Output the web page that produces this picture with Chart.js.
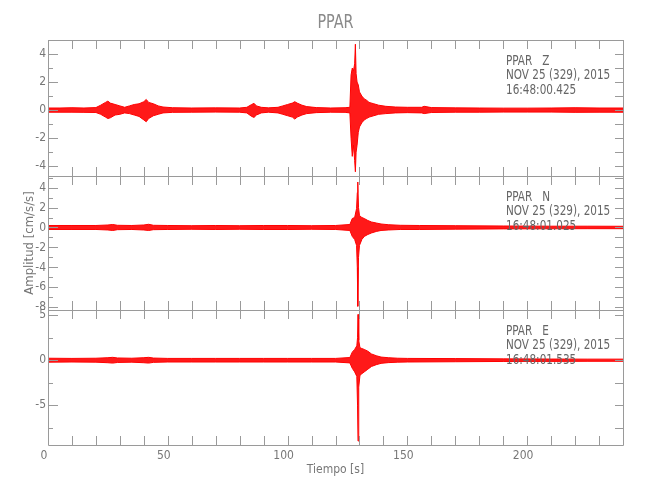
<!DOCTYPE html>
<html>
<head>
<meta charset="utf-8">
<title>PPAR</title>
<script src="https://cdn.jsdelivr.net/npm/chart.js@4.4.1/dist/chart.umd.min.js"></script>
<style>
  body { margin: 0; background: #fff; }
  #wrap { position: relative; width: 650px; height: 500px; }
  #wrap canvas { position: absolute; left: 0; top: 0; }
</style>
</head>
<body>
<div id="wrap">
  <canvas id="panelZ" width="650" height="500"></canvas>
  <canvas id="panelN" width="650" height="500"></canvas>
  <canvas id="panelE" width="650" height="500"></canvas>
</div>
<script>
const tiempoZ = [0, 5, 10, 15, 20, 22, 24, 25, 26, 28,
  30, 32, 34, 36, 38, 40, 41, 42, 44, 46,
  48, 52, 60, 70, 80, 83, 85, 86, 87, 89,
  92, 96, 98, 100, 102, 103, 104, 106, 108, 112,
  118, 124, 126, 126.5, 127, 127.5, 128, 128.3, 128.6, 129,
  129.5, 130, 131, 132, 133, 134, 136, 138, 141, 145,
  150, 156, 157, 160, 170, 180, 190, 200, 210, 220,
  230, 240];
const altoZ = [0.15, 0.15, 0.17, 0.15, 0.18, 0.35, 0.55, 0.64, 0.5, 0.4,
  0.3, 0.2, 0.3, 0.4, 0.45, 0.6, 0.76, 0.55, 0.45, 0.3,
  0.22, 0.17, 0.15, 0.16, 0.15, 0.2, 0.4, 0.48, 0.3, 0.2,
  0.16, 0.2, 0.3, 0.4, 0.5, 0.6, 0.5, 0.35, 0.25, 0.18,
  0.15, 0.17, 0.2, 2.5, 3.0, 2.8, 3.3, 4.7, 2.6, 2.0,
  1.8, 1.3, 1.0, 0.8, 0.7, 0.55, 0.45, 0.35, 0.27, 0.22,
  0.2, 0.2, 0.27, 0.18, 0.16, 0.15, 0.14, 0.14, 0.15, 0.17,
  0.15, 0.15];
const bajoZ = [-0.15, -0.15, -0.15, -0.16, -0.17, -0.3, -0.5, -0.6, -0.55, -0.35,
  -0.3, -0.2, -0.25, -0.35, -0.45, -0.7, -0.83, -0.6, -0.4, -0.3,
  -0.2, -0.16, -0.15, -0.14, -0.15, -0.2, -0.45, -0.52, -0.35, -0.2,
  -0.15, -0.2, -0.3, -0.4, -0.5, -0.64, -0.5, -0.35, -0.25, -0.18,
  -0.15, -0.16, -0.2, -2.0, -3.3, -2.5, -3.6, -4.4, -3.0, -2.5,
  -1.6, -1.2, -0.9, -0.7, -0.6, -0.5, -0.4, -0.3, -0.25, -0.2,
  -0.18, -0.2, -0.25, -0.17, -0.15, -0.15, -0.14, -0.14, -0.14, -0.16,
  -0.15, -0.15];

const tiempoN = [0, 10, 20, 25, 27, 29, 35, 40, 42, 44,
  50, 60, 70, 80, 90, 100, 110, 120, 126, 127,
  128, 128.8, 129.1, 129.3, 129.6, 130, 131, 132, 133.5, 135,
  137, 139, 142, 147, 155, 170, 190, 210, 225, 240];
const altoN = [0.2, 0.2, 0.2, 0.25, 0.3, 0.22, 0.2, 0.25, 0.32, 0.22,
  0.2, 0.18, 0.2, 0.18, 0.2, 0.2, 0.18, 0.2, 0.3, 0.9,
  1.0, 1.9, 3.5, 4.56, 2.0, 1.2, 1.0, 0.9, 0.7, 0.55,
  0.45, 0.35, 0.28, 0.22, 0.2, 0.18, 0.15, 0.13, 0.13, 0.12];
const bajoN = [-0.2, -0.2, -0.2, -0.25, -0.3, -0.22, -0.2, -0.25, -0.3, -0.22,
  -0.2, -0.18, -0.2, -0.18, -0.2, -0.2, -0.18, -0.2, -0.3, -0.9,
  -1.2, -1.8, -4.0, -7.9, -3.0, -1.8, -1.2, -0.9, -0.7, -0.55,
  -0.4, -0.3, -0.25, -0.2, -0.2, -0.17, -0.14, -0.13, -0.12, -0.12];

const tiempoE = [0, 10, 20, 25, 27, 29, 35, 40, 42, 44,
  50, 60, 70, 80, 90, 100, 110, 120, 126, 127,
  128, 128.9, 129.2, 129.4, 129.7, 130.2, 131, 132, 133.5, 135,
  137, 139, 142, 146, 150, 170, 190, 210, 225, 240];
const altoE = [0.22, 0.2, 0.22, 0.28, 0.32, 0.25, 0.22, 0.28, 0.32, 0.24,
  0.2, 0.2, 0.2, 0.2, 0.2, 0.2, 0.2, 0.2, 0.3, 0.9,
  1.2, 1.6, 2.5, 5.1, 2.2, 1.4, 1.3, 1.2, 1.0, 0.7,
  0.5, 0.35, 0.28, 0.22, 0.2, 0.18, 0.15, 0.13, 0.12, 0.12];
const bajoE = [-0.22, -0.2, -0.22, -0.28, -0.32, -0.25, -0.22, -0.28, -0.32, -0.24,
  -0.2, -0.2, -0.2, -0.2, -0.2, -0.2, -0.2, -0.2, -0.3, -0.9,
  -1.3, -1.8, -5.0, -9.0, -3.0, -1.7, -1.5, -1.3, -1.0, -0.7,
  -0.5, -0.35, -0.27, -0.22, -0.2, -0.17, -0.14, -0.13, -0.12, -0.12];

const ticksZ = [4, 2, 0, -2, -4];
const ticksN = [4, 2, 0, -2, -4, -6, -8];
const ticksE = [5, 0, -5];
const ticksTiempo = [0, 50, 100, 150, 200];

const estacion = 'PPAR';
const fecha = 'NOV 25 (329), 2015';

const fuente = "'DejaVu Sans Condensed', 'Liberation Sans', sans-serif";
const grisTexto = '#777';
const grisEje = '#9a9a9a';

// texto angosto, como el de la figura original
function textoAngosto(ctx, texto, x, y, escala) {
  ctx.save();
  ctx.translate(x, y);
  ctx.scale(escala, 1);
  ctx.fillText(texto, 0, 0);
  ctx.restore();
}

// marco con marcas hacia adentro y texto de la estacion
const marcoPlugin = {
  id: 'marco',
  afterDatasetsDraw(chart, args, opts) {
    const { ctx, chartArea: a, scales: { x, y } } = chart;
    ctx.save();
    ctx.strokeStyle = grisEje;
    ctx.lineWidth = 1;
    ctx.beginPath();
    ctx.rect(a.left + 0.5, a.top + 0.5, a.right - a.left, a.bottom - a.top);
    for (let t = 0; t <= 240; t += 10) {
      const px = Math.round(x.getPixelForValue(t)) + 0.5;
      ctx.moveTo(px, a.top); ctx.lineTo(px, a.top + 9);
      ctx.moveTo(px, a.bottom); ctx.lineTo(px, a.bottom - 9);
    }
    const inicio = Math.ceil(y.min / opts.paso) * opts.paso;
    for (let v = inicio; v <= y.max; v += opts.paso) {
      const py = Math.round(y.getPixelForValue(v)) + 0.5;
      const mayor = opts.ticks.includes(v);
      ctx.moveTo(a.left, py); ctx.lineTo(a.left + (mayor ? 10 : 5), py);
      ctx.moveTo(a.right, py); ctx.lineTo(a.right - 8, py);
    }
    ctx.stroke();

    ctx.textBaseline = 'middle';
    if (opts.titulo) {
      ctx.fillStyle = '#8a8a8a';
      ctx.font = "20px " + fuente;
      ctx.textAlign = 'center';
      textoAngosto(ctx, opts.titulo, (a.left + a.right) / 2, 22.5, 0.8);
    }
    ctx.fillStyle = '#666';
    ctx.font = "14px " + fuente;
    ctx.textAlign = 'left';
    const lineas = [estacion + '   ' + opts.comp, fecha, opts.hora];
    lineas.forEach((l, i) => textoAngosto(ctx, l, 506, a.top + 21 + i * 14.5, 0.83));
    ctx.restore();
  }
};

function crearPanel(id, tiempo, alto, bajo, cfg) {
  const arriba = tiempo.map((t, i) => ({ x: t, y: alto[i] }));
  const abajo = tiempo.map((t, i) => ({ x: t, y: bajo[i] }));
  return new Chart(document.getElementById(id), {
    type: 'line',
    data: {
      datasets: [
        { data: arriba, borderColor: '#ff0000', borderWidth: 1, backgroundColor: 'rgba(255,0,0,0.9)', fill: '+1', pointRadius: 0, tension: 0 },
        { data: abajo, borderColor: '#ff0000', borderWidth: 1, pointRadius: 0, tension: 0, fill: false }
      ]
    },
    options: {
      responsive: false,
      animation: false,
      events: [],
      layout: { padding: cfg.padding },
      plugins: {
        legend: { display: false },
        tooltip: { enabled: false },
        marco: { ticks: cfg.ticks, paso: cfg.paso, comp: cfg.comp, hora: cfg.hora, titulo: cfg.titulo }
      },
      scales: {
        x: {
          type: 'linear',
          min: 0,
          max: 240,
          display: cfg.ejeX,
          afterFit: s => { if (cfg.ejeX) s.height = 55; },
          afterBuildTicks: s => { s.ticks = ticksTiempo.map(v => ({ value: v })); },
          grid: { display: false, drawTicks: false },
          border: { display: false },
          ticks: { color: grisTexto, font: { family: fuente, size: 12 }, padding: 4, labelOffset: -4, maxRotation: 0 },
          title: {
            display: true,
            text: 'Tiempo [s]',
            color: grisTexto,
            font: { family: fuente, size: 12 },
            padding: { top: 0, bottom: 23 }
          }
        },
        y: {
          min: cfg.min,
          max: cfg.max,
          afterFit: s => { s.width = 48; },
          afterBuildTicks: s => { s.ticks = cfg.ticks.map(v => ({ value: v })); },
          grid: { display: false, drawTicks: false },
          border: { display: false },
          ticks: { color: grisTexto, font: { family: fuente, size: 12 }, padding: 2 },
          title: {
            display: !!cfg.tituloY,
            text: cfg.tituloY || '',
            color: grisTexto,
            font: { family: fuente, size: 13 },
            padding: { top: 22, bottom: 0 }
          }
        }
      }
    },
    plugins: [marcoPlugin]
  });
}

crearPanel('panelZ', tiempoZ, altoZ, bajoZ, {
  min: -4.7, max: 5.0, ticks: ticksZ, paso: 1, comp: 'Z', hora: '16:48:00.425',
  titulo: estacion, ejeX: false, padding: { left: 0, right: 27, top: 40, bottom: 324 }
});
crearPanel('panelN', tiempoN, altoN, bajoN, {
  min: -8.27, max: 5.16, ticks: ticksN, paso: 1, comp: 'N', hora: '16:48:01.025',
  tituloY: 'Amplitud [cm/s/s]', ejeX: false, padding: { left: 0, right: 27, top: 176, bottom: 190 }
});
crearPanel('panelE', tiempoE, altoE, bajoE, {
  min: -9.44, max: 5.59, ticks: ticksE, paso: 2.5, comp: 'E', hora: '16:48:01.535',
  ejeX: true, padding: { left: 0, right: 27, top: 310, bottom: 0 }
});
</script>
</body>
</html>
